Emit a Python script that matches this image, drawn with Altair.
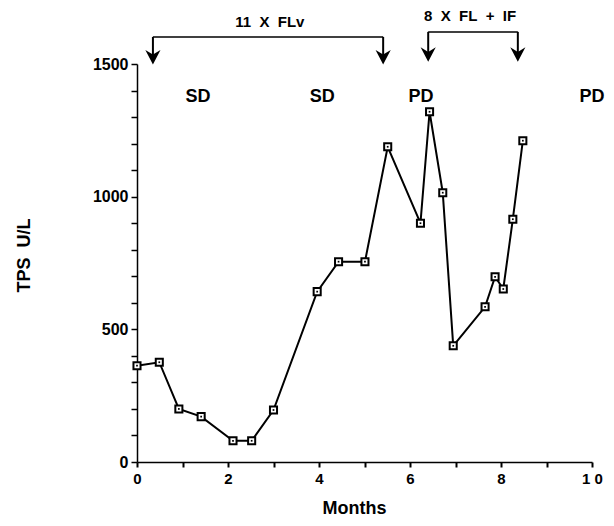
import altair as alt
import pandas as pd

# ---- data ----
months = [0.0, 0.49, 0.92, 1.41, 2.11, 2.52, 3.0, 3.96, 4.43, 5.01, 5.51,
          6.23, 6.43, 6.72, 6.95, 7.65, 7.87, 8.05, 8.26, 8.48]
tps = [363, 376, 200, 171, 80, 80, 196, 642, 755, 755, 1188,
       900, 1320, 1015, 438, 585, 698, 652, 915, 1211]

y_ticks = list(range(0, 1600, 100))
x_ticks = list(range(0, 11))

NB = "\u00a0"
# treatment brackets (in data units, drawn above the plot area)
bracket_start = [0.35, 6.40]
bracket_end = [5.41, 8.37]
bracket_level = [1602, 1621]
bracket_label = [f"11{NB}{NB}X{NB}{NB}FLv", f"8{NB}{NB}X{NB}{NB}FL{NB}{NB}+{NB}{NB}IF"]
bracket_label_x = [2.92, 7.32]
bracket_label_y = [1658, 1681]

arrow_x = [0.35, 5.41, 6.40, 8.37]
arrow_top = [1602, 1602, 1621, 1621]
arrow_tip = [1527, 1527, 1537, 1537]

status_label = ["SD", "SD", "PD", "PD"]
status_x = [1.34, 4.07, 6.24, 10.0]
status_y = [1376, 1376, 1376, 1376]

FONT = "Liberation Sans"

df = pd.DataFrame({"month": months, "tps": tps})
br = pd.DataFrame({"month": bracket_start, "month2": bracket_end, "tps": bracket_level})
brl = pd.DataFrame({"month": bracket_label_x, "tps": bracket_label_y, "label": bracket_label})
ar = pd.DataFrame({"month": arrow_x, "tps": arrow_top, "tps2": arrow_tip})
st = pd.DataFrame({"month": status_x, "tps": status_y, "label": status_label})

xs = alt.Scale(domain=[0, 10], nice=False, zero=False)
ys = alt.Scale(domain=[0, 1500], nice=False)

x_axis = alt.Axis(
    title="Months", values=x_ticks, tickCount=len(x_ticks), format="d",
    labelExpr="datum.value % 2 == 0 ? (datum.value == 10 ? '1 0' : datum.label) : ''",
    labelOverlap=False,
    grid=False, tickSize=5, tickColor="black", tickWidth=2,
    domainColor="black", domainWidth=1.5,
    labelFont=FONT, labelFontWeight="bold", labelFontSize=15, labelColor="black",
    labelPadding=4, labelFlush=False,
    titleFont=FONT, titleFontWeight="bold", titleFontSize=18, titleColor="black",
    titleBaseline="middle", titleAlign="center", titleX=217, titleY=46,
)
y_axis = alt.Axis(
    title=f"TPS{NB}{NB}U/L", values=y_ticks, tickCount=len(y_ticks), format="d",
    labelExpr="datum.value % 500 == 0 ? datum.label : ''",
    labelOverlap=False,
    grid=False, tickSize=6, tickColor="black", tickWidth=1.5,
    domainColor="black", domainWidth=1.5,
    labelFont=FONT, labelFontWeight="bold", labelFontSize=16, labelColor="black",
    labelPadding=3, labelFlush=False,
    titleFont=FONT, titleFontWeight="bold", titleFontSize=18, titleColor="black",
    titleBaseline="middle", titleAlign="center", titleAngle=270, titleX=-113, titleY=191,
)

base = alt.Chart(df)
line = base.mark_line(color="black", strokeWidth=2).encode(
    x=alt.X("month:Q", scale=xs, axis=x_axis),
    y=alt.Y("tps:Q", scale=ys, axis=y_axis),
)
pts = base.mark_point(shape="square", filled=True, fill="white", stroke="black",
                      strokeWidth=2, size=50, opacity=1).encode(
    x=alt.X("month:Q"), y=alt.Y("tps:Q"))
dots = base.mark_point(shape="square", filled=True, color="black", size=3, opacity=1).encode(
    x=alt.X("month:Q"), y=alt.Y("tps:Q"))

brk = alt.Chart(br).mark_rule(color="black", strokeWidth=1.5).encode(
    x=alt.X("month:Q"), x2="month2:Q", y=alt.Y("tps:Q"))
stems = alt.Chart(ar).mark_rule(color="black", strokeWidth=2).encode(
    x=alt.X("month:Q"), y=alt.Y("tps:Q"), y2="tps2:Q")
heads = alt.Chart(ar).mark_point(
    shape="M-1,-0.9 L0,1 L1,-0.9 L0,-0.3 Z", filled=True, color="black",
    size=230, opacity=1).encode(x=alt.X("month:Q"), y=alt.Y("tps2:Q"))

brtxt = alt.Chart(brl).mark_text(font=FONT, fontWeight="bold", fontSize=15,
                                 color="black", baseline="middle").encode(
    x=alt.X("month:Q"), y=alt.Y("tps:Q"), text="label:N")
sttxt = alt.Chart(st).mark_text(font=FONT, fontWeight="bold", fontSize=18,
                                color="black", baseline="middle").encode(
    x=alt.X("month:Q"), y=alt.Y("tps:Q"), text="label:N")

chart = alt.layer(line, pts, dots, brk, stems, heads, brtxt, sttxt).properties(
    width=455, height=398,
    autosize=alt.AutoSizeParams(type="none"),
    padding={"left": 129, "top": 56, "right": 14, "bottom": 56},
    background="white",
).configure_view(stroke=None)

chart.save("out.html", embed_options={"renderer": "svg", "actions": False})
